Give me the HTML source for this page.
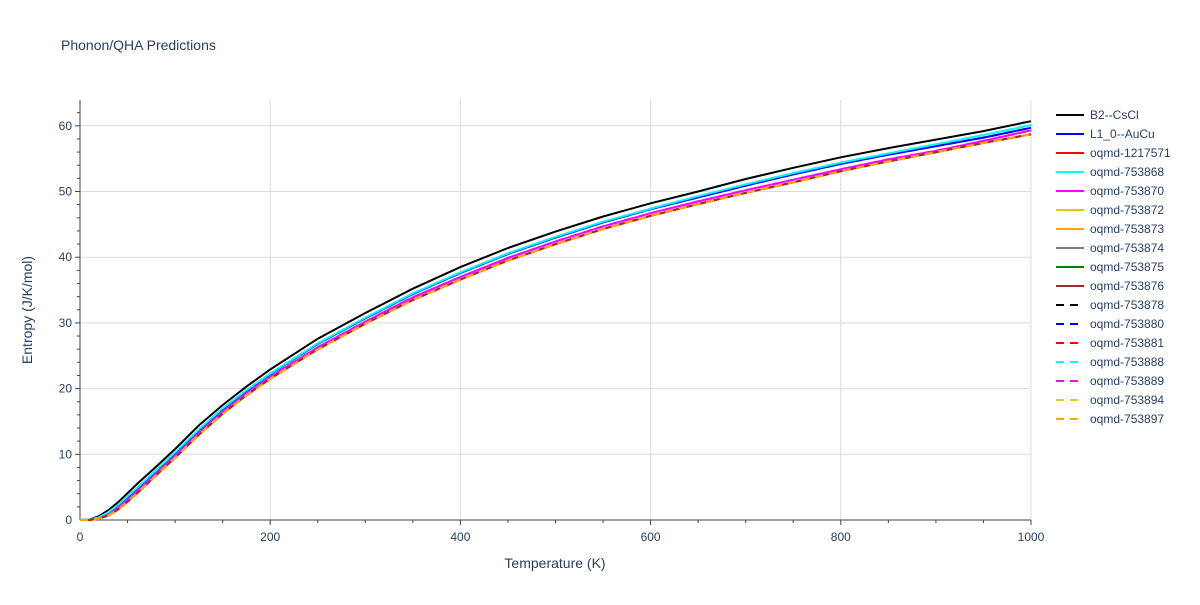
<!DOCTYPE html>
<html><head><meta charset="utf-8"><style>
body{margin:0;background:#fff;font-family:"Liberation Sans",sans-serif;}
svg text{font-family:"Liberation Sans",sans-serif;}
</style></head><body>
<svg id="chart" width="1200" height="600" xmlns="http://www.w3.org/2000/svg">
<rect width="1200" height="600" fill="#fff"/>
<text x="61" y="50" font-size="14" fill="#2a3f5f">Phonon/QHA Predictions</text>
<g id="grid"></g><g id="axes"></g><g id="series"></g><g id="legend"></g>
<text x="555" y="568" font-size="14" fill="#2a3f5f" text-anchor="middle">Temperature (K)</text>
<text transform="translate(32,310) rotate(-90)" font-size="14" fill="#2a3f5f" text-anchor="middle">Entropy (J/K/mol)</text>
</svg>
<script>
const temps=[0,10,20,30,40,50,60,80,100,125,150,175,200,250,300,350,400,450,500,550,600,650,700,750,800,850,900,950,1000];
const sB2=[0,0.05,0.6,1.5,2.7,4.1,5.5,8.1,10.8,14.4,17.5,20.3,22.9,27.6,31.5,35.2,38.5,41.4,43.9,46.2,48.2,50.0,51.9,53.6,55.2,56.6,57.9,59.2,60.7];
const sBlue=[0,0.02,0.35,1.1,2.2,3.5,4.8,7.5,10.2,13.7,16.9,19.7,22.2,26.8,30.7,34.4,37.6,40.5,43.0,45.3,47.3,49.1,50.9,52.6,54.2,55.6,56.9,58.2,59.7];
const sCyan=[0,0.02,0.4,1.2,2.3,3.6,4.9,7.6,10.3,13.8,17.0,19.8,22.3,26.9,30.8,34.5,37.7,40.6,43.1,45.4,47.4,49.3,51.1,52.8,54.4,55.8,57.2,58.6,60.1];
const sMag=[0,0.01,0.25,0.85,1.9,3.1,4.4,7.1,9.8,13.3,16.5,19.3,21.8,26.3,30.2,33.9,37.0,39.9,42.4,44.7,46.7,48.5,50.2,51.8,53.4,54.9,56.2,57.7,59.3];
const sLow=[0,0.01,0.2,0.7,1.6,2.8,4.1,6.8,9.5,13.0,16.2,19.0,21.5,26.0,29.9,33.5,36.6,39.5,42.0,44.3,46.3,48.1,49.8,51.4,53.1,54.6,56.0,57.4,58.7];
const names=["B2--CsCl","L1_0--AuCu","oqmd-1217571","oqmd-753868","oqmd-753870","oqmd-753872","oqmd-753873","oqmd-753874","oqmd-753875","oqmd-753876","oqmd-753878","oqmd-753880","oqmd-753881","oqmd-753888","oqmd-753889","oqmd-753894","oqmd-753897"];
const colors=["#000000","#0000ff","#ff0000","#00ffff","#ff00ff","#e6c619","#ffa500","#808080","#008000","#a52a2a","#000000","#0000ff","#ff0000","#00ffff","#ff00ff","#e6c619","#ffa500"];
const dashed=[0,0,0,0,0,0,0,0,0,0,1,1,1,1,1,1,1];
const seriesData=[sB2,sBlue,sLow,sCyan,sMag,sLow,sLow,sLow,sLow,sLow,sLow,sBlue,sLow,sCyan,sMag,sLow,sLow];
const xTicks=[0,200,400,600,800,1000];
const yTicks=[0,10,20,30,40,50,60];
const NS="http://www.w3.org/2000/svg";
const X0=80,X1=1031,Y0=520,Y1=100;
const xs=t=>X0+t/1000*(X1-X0);
const ys=v=>Y0-v*6.57;
function mk(tag,attrs,parent){const e=document.createElementNS(NS,tag);for(const k in attrs)e.setAttribute(k,attrs[k]);parent.appendChild(e);return e;}
const grid=document.getElementById('grid'),axes=document.getElementById('axes'),ser=document.getElementById('series'),leg=document.getElementById('legend');
xTicks.forEach(t=>{
 if(t>0){const g=mk('line',{x1:xs(t),x2:xs(t),y1:Y1,y2:Y0,stroke:'#dcdcdc','stroke-width':1},grid);
 
 }
 const l=mk('text',{x:xs(t),y:Y0+21,'font-size':12,fill:'#2a3f5f','text-anchor':'middle'},axes);l.textContent=t;
 
 
});
for(let t=50;t<=1000;t+=50){const m=mk('line',{x1:xs(t),x2:xs(t),y1:Y0,y2:Y0+(t%200?3:5),stroke:'#444'},axes);
 
 }
yTicks.forEach(v=>{
 if(v>0){const g=mk('line',{x1:X0,x2:X1,y1:ys(v),y2:ys(v),stroke:'#dcdcdc','stroke-width':1},grid);
 
 }
 const l=mk('text',{x:X0-8,y:ys(v)+4,'font-size':12,fill:'#2a3f5f','text-anchor':'end'},axes);l.textContent=v;
 
 
});
for(let v=2;v<=62;v+=2){const m=mk('line',{x1:X0-(v%10?3:5),x2:X0,y1:ys(v),y2:ys(v),stroke:'#444'},axes);
 
 }
const ax1=mk('line',{x1:X0,x2:X0,y1:Y1,y2:Y0,stroke:'#444'},axes);


const ax2=mk('line',{x1:X0,x2:X1,y1:Y0,y2:Y0,stroke:'#444'},axes);


names.forEach((n,i)=>{
 const d=seriesData[i].map((v,j)=>(j?'L':'M')+xs(temps[j]).toFixed(1)+','+ys(v).toFixed(1)).join('');
 const p=mk('path',{d:d,fill:'none',stroke:colors[i],'stroke-width':2,'stroke-dasharray':dashed[i]?'8,6':'none'},ser);
 
 
 const y=115+i*19;
 const g=mk('g',{},leg);
 
 
 mk('line',{x1:1056,x2:1084,y1:y,y2:y,stroke:colors[i],'stroke-width':2,'stroke-dasharray':dashed[i]?'8,6':'none'},g);
 const t=mk('text',{x:1090,y:y+4,'font-size':12,fill:'#2a3f5f'},g);t.textContent=n;
});
</script>
</body></html>
